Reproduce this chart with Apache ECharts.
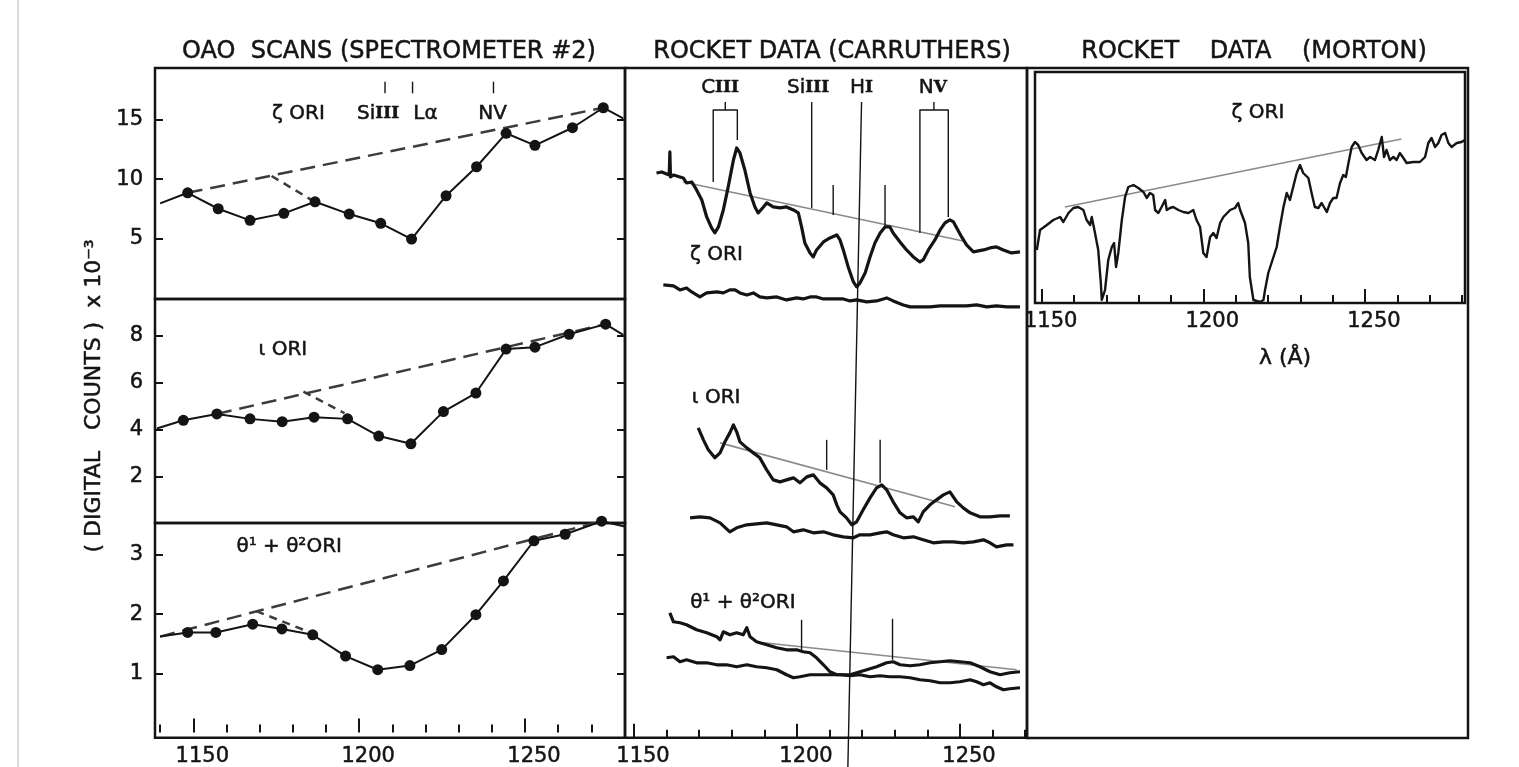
<!DOCTYPE html>
<html>
<head>
<meta charset="utf-8">
<title>OAO scans and rocket data</title>
<script src="https://cdn.jsdelivr.net/npm/echarts@6/dist/echarts.min.js"></script>
<style>
html, body { margin: 0; padding: 0; background: #fff; }
#chart { width: 1519px; height: 767px; }
</style>
</head>
<body>
<div id="chart"></div>
<script>
// wavelength ticks (Angstrom)
var majorTicks = [1150, 1200, 1250];
var minorTicks = [1140, 1160, 1170, 1180, 1190, 1210, 1220, 1230, 1240, 1260, 1270, 1280];
var zetaTicks = [5, 10, 15];
var iotaTicks = [2, 4, 6, 8];
var thetaTicks = [1, 2, 3];

// OAO scans (digital counts x 10^-3)
var zetaOao = [[1148.3, 8.85], [1157.5, 7.5], [1167.1, 6.52], [1177.3, 7.11], [1186.7, 8.09], [1197.0, 7.05], [1206.5, 6.27],
  [1215.8, 4.94], [1226.2, 8.6], [1235.4, 11.05], [1244.3, 13.88], [1253.0, 12.86], [1264.3, 14.35], [1273.6, 16.04]];
var zetaOaoEnds = [[1140, 7.96], [1279.6, 15.14]];
var zetaOaoCont = [[1148.3, 8.85], [1273.6, 16.04]];
var zetaOaoBranch = [[1173.6, 10.27], [1186.5, 8.1]];

var iotaOao = [[1147.0, 4.4], [1157.1, 4.67], [1167.1, 4.46], [1176.8, 4.34], [1186.4, 4.53], [1196.5, 4.46], [1205.9, 3.73],
  [1215.6, 3.4], [1225.4, 4.77], [1235.2, 5.56], [1244.3, 7.43], [1253.0, 7.51], [1263.3, 8.06], [1274.3, 8.49]];
var iotaOaoEnds = [[1139, 4.05], [1279.6, 8.03]];
var iotaOaoCont = [[1157.1, 4.67], [1274.3, 8.49]];
var iotaOaoBranch = [[1183.2, 5.62], [1195.6, 4.7]];

var thetaOao = [[1148.3, 1.69], [1156.8, 1.69], [1167.9, 1.83], [1176.7, 1.75], [1186.0, 1.65], [1195.9, 1.29], [1205.6, 1.06],
  [1215.3, 1.13], [1224.9, 1.40], [1235.2, 1.99], [1243.5, 2.56], [1252.7, 3.24], [1262.1, 3.35], [1273.1, 3.57]];
var thetaOaoEnds = [[1140, 1.62], [1280.1, 3.48]];
var thetaOaoCont = [[1140, 1.62], [1273.1, 3.57]];
var thetaOaoBranch = [[1169, 2.05], [1186.2, 1.67]];

var oaoIdTicks = [
  [[1207.8, 18.24], [1207.8, 17.26]],
  [[1216.1, 18.24], [1216.1, 17.26]],
  [[1240.5, 18.24], [1240.5, 17.26]]
];

// rocket data (Carruthers), relative intensity
var zetaRocket = [[1156.9, 56.5], [1158.5, 56.6], [1160.8, 56.3], [1161.0, 58.6], [1161.2, 56.1], [1162.1, 56.3], [1165.1, 56.0],
  [1166.1, 55.5], [1167.7, 55.6], [1169.2, 54.8], [1170.8, 53.8], [1172.3, 52.1], [1173.8, 51.0], [1174.8, 50.5], [1175.9, 51.1],
  [1177.4, 52.8], [1178.9, 55.1], [1180.5, 57.8], [1181.5, 59.0], [1182.5, 58.5], [1184.0, 56.8], [1185.6, 54.5], [1187.1, 53.1],
  [1188.1, 52.5], [1189.7, 53.1], [1190.7, 53.5], [1192.7, 53.1], [1194.8, 53.0], [1196.8, 53.1], [1198.9, 52.8], [1200.4, 52.5],
  [1201.4, 51.1], [1202.4, 49.5], [1204.0, 48.5], [1205.0, 48.1], [1206.0, 48.8], [1208.1, 49.6], [1210.1, 50.0], [1212.2, 50.3],
  [1213.2, 49.8], [1214.2, 48.8], [1215.7, 47.1], [1217.3, 45.6], [1218.3, 45.1], [1219.3, 45.5], [1220.9, 46.5], [1222.4, 48.1],
  [1223.9, 49.5], [1225.5, 50.5], [1227.0, 51.1], [1228.5, 51.1], [1229.5, 50.5], [1231.6, 49.6], [1233.6, 48.8], [1235.7, 48.1],
  [1237.7, 47.6], [1238.7, 47.8], [1240.3, 48.8], [1242.3, 49.8], [1243.9, 50.8], [1245.4, 51.5], [1246.9, 51.8], [1248.0, 51.6],
  [1249.0, 51.0], [1250.5, 50.1], [1252.0, 49.3], [1254.1, 48.6], [1257.2, 48.8], [1259.2, 49.0], [1261.2, 49.1], [1263.3, 48.8],
  [1265.8, 48.5], [1268.4, 48.6]];
var zetaRocketBase = [[1159.0, 45.3], [1162.1, 45.2], [1164.1, 44.8], [1166.1, 45.0], [1167.7, 44.6], [1170.2, 44.1], [1172.3, 44.5],
  [1175.4, 44.6], [1177.4, 44.5], [1179.4, 44.8], [1181.0, 44.8], [1182.5, 44.5], [1184.6, 44.3], [1186.6, 44.5], [1188.6, 44.1],
  [1190.7, 44.0], [1193.8, 44.1], [1196.8, 43.8], [1199.9, 44.0], [1201.9, 43.9], [1204.0, 44.1], [1206.0, 44.1], [1208.1, 43.9],
  [1211.1, 43.9], [1214.2, 43.9], [1216.3, 43.7], [1218.3, 43.8], [1221.4, 43.6], [1224.4, 43.7], [1227.5, 44.0], [1229.5, 43.7],
  [1232.6, 43.3], [1234.7, 43.1], [1237.7, 43.1], [1240.8, 43.1], [1243.9, 43.2], [1247.9, 43.2], [1252.0, 43.2], [1255.1, 43.3],
  [1258.2, 43.1], [1261.2, 43.2], [1264.3, 43.1], [1268.4, 43.1]];
var zetaRocketCont = [[1165.1, 55.6], [1251.0, 49.7]];

var iotaRocket = [[1169.7, 31.0], [1171.3, 29.8], [1172.8, 28.8], [1174.8, 28.0], [1176.4, 28.5], [1177.9, 29.6], [1179.4, 30.5],
  [1180.5, 31.3], [1181.5, 30.6], [1182.5, 29.6], [1184.6, 29.0], [1186.6, 28.5], [1188.6, 28.0], [1190.7, 26.8], [1192.7, 25.8],
  [1194.8, 25.6], [1196.8, 25.8], [1198.9, 26.0], [1200.9, 25.5], [1203.0, 26.1], [1205.0, 26.3], [1207.0, 25.5], [1209.1, 25.0],
  [1211.1, 24.3], [1212.2, 23.3], [1213.2, 22.6], [1215.2, 22.0], [1216.8, 21.3], [1218.3, 21.6], [1220.3, 22.8], [1222.4, 24.0],
  [1224.4, 25.0], [1226.0, 25.3], [1227.5, 24.8], [1229.5, 23.6], [1231.6, 22.5], [1233.6, 22.0], [1235.7, 22.1], [1237.2, 21.6],
  [1238.7, 22.6], [1240.8, 23.3], [1242.8, 23.8], [1244.9, 24.3], [1246.9, 24.6], [1249.0, 23.6], [1251.0, 23.0], [1253.1, 22.5],
  [1256.1, 22.1], [1259.2, 22.1], [1262.3, 22.2], [1265.3, 22.2]];
var iotaRocketBase = [[1167.2, 22.0], [1170.2, 22.1], [1173.3, 22.0], [1176.4, 21.5], [1179.4, 20.6], [1181.5, 21.0], [1184.6, 21.3],
  [1187.6, 21.4], [1190.7, 21.5], [1193.8, 21.3], [1196.8, 21.1], [1198.9, 20.6], [1201.9, 20.8], [1205.0, 20.5], [1208.1, 20.6],
  [1211.1, 20.3], [1214.2, 20.1], [1217.3, 20.0], [1219.3, 20.3], [1222.4, 20.3], [1225.5, 20.5], [1227.5, 20.6], [1229.5, 20.3],
  [1232.6, 20.0], [1235.7, 20.1], [1238.7, 19.8], [1241.8, 19.5], [1244.9, 19.6], [1247.9, 19.6], [1251.0, 19.5], [1254.1, 19.6],
  [1257.2, 19.8], [1259.2, 19.5], [1261.2, 19.1], [1264.3, 19.3], [1266.4, 19.3]];
var iotaRocketCont = [[1176.4, 29.5], [1248.5, 23.1]];

var thetaRocket = [[1161.0, 12.5], [1162.1, 11.6], [1164.1, 11.5], [1166.1, 11.3], [1169.2, 10.8], [1172.3, 10.5], [1175.4, 10.1],
  [1176.4, 9.8], [1177.4, 10.6], [1179.4, 10.3], [1181.5, 10.5], [1183.5, 10.3], [1184.6, 11.0], [1185.6, 10.1], [1187.6, 9.6],
  [1190.7, 9.3], [1193.8, 9.0], [1196.8, 8.8], [1199.9, 8.8], [1201.9, 8.6], [1204.0, 8.5], [1206.0, 8.0], [1208.1, 7.3],
  [1210.1, 6.6], [1212.2, 6.3], [1214.2, 6.3], [1216.3, 6.3], [1218.3, 6.5], [1221.4, 6.8], [1224.4, 7.1], [1227.5, 7.5],
  [1229.5, 7.6], [1231.6, 7.3], [1234.7, 7.2], [1237.7, 7.3], [1240.8, 7.5], [1243.9, 7.6], [1246.9, 7.7], [1250.0, 7.6],
  [1253.1, 7.5], [1256.1, 7.1], [1259.2, 6.6], [1262.3, 6.3], [1265.3, 6.5], [1268.4, 6.6]];
var thetaRocketBase = [[1160.0, 8.0], [1162.1, 8.1], [1164.1, 7.6], [1166.1, 7.8], [1169.2, 7.5], [1172.3, 7.5], [1175.4, 7.3],
  [1178.4, 7.3], [1181.5, 7.1], [1184.6, 7.3], [1187.6, 7.1], [1190.7, 7.0], [1193.8, 6.8], [1196.8, 6.3], [1198.9, 6.0],
  [1200.9, 6.1], [1204.0, 6.3], [1207.0, 6.3], [1210.1, 6.3], [1213.2, 6.3], [1216.3, 6.2], [1219.3, 6.3], [1222.4, 6.1],
  [1225.5, 6.2], [1228.5, 6.1], [1231.6, 6.1], [1234.7, 6.0], [1237.7, 5.8], [1240.8, 5.7], [1243.9, 5.5], [1246.9, 5.5],
  [1250.0, 5.6], [1253.1, 5.8], [1255.1, 5.6], [1257.2, 5.3], [1259.2, 5.5], [1261.2, 5.1], [1263.3, 4.8], [1265.3, 4.9],
  [1268.4, 5.0]];
var thetaRocketCont = [[1189.7, 9.5], [1267.4, 6.8]];

var rocketIdLines = [
  [[1174.3, 55.6], [1174.3, 62.8], [1181.7, 62.8], [1181.7, 59.8]],
  [[1178.0, 62.8], [1178.0, 63.6]],
  [[1204.5, 63.6], [1204.5, 53.0]],
  [[1211.1, 55.3], [1211.1, 52.3]],
  [[1219.8, 63.6], [1215.6, -3]],
  [[1227.0, 55.3], [1227.0, 51.1]],
  [[1237.7, 50.5], [1237.7, 62.8], [1246.4, 62.8], [1246.4, 52.1]],
  [[1242.0, 62.8], [1242.0, 63.6]],
  [[1209.1, 29.8], [1209.1, 26.8]],
  [[1225.5, 29.8], [1225.5, 25.5]],
  [[1201.4, 11.8], [1201.4, 8.8]],
  [[1229.3, 11.9], [1229.3, 7.8]]
];

// rocket data (Morton), zeta Ori
var morton = [[1148.5, 5.3], [1149.5, 7.3], [1151.6, 7.8], [1153.6, 8.3], [1155.7, 8.6], [1156.7, 8.1], [1158.3, 9.0], [1159.8, 9.5],
  [1161.3, 9.6], [1162.9, 9.3], [1163.9, 8.3], [1165.0, 7.8], [1165.5, 8.6], [1166.5, 7.0], [1167.5, 5.3], [1168.3, 2.0],
  [1168.6, 0.3], [1169.6, 1.3], [1170.6, 4.3], [1171.7, 5.6], [1172.4, 6.0], [1173.0, 3.6], [1173.7, 5.0], [1174.8, 8.3],
  [1175.8, 10.6], [1176.8, 11.6], [1178.4, 11.8], [1179.9, 11.5], [1181.5, 11.1], [1182.5, 10.5], [1183.5, 11.0], [1184.5, 10.8],
  [1185.1, 9.3], [1186.1, 9.0], [1187.1, 9.6], [1188.2, 10.3], [1188.7, 9.3], [1189.7, 9.5], [1190.7, 9.6], [1192.3, 9.3],
  [1193.8, 9.1], [1195.4, 9.0], [1196.9, 9.3], [1197.9, 8.3], [1199.0, 7.6], [1200.0, 5.0], [1201.0, 4.6], [1202.1, 6.6],
  [1203.1, 7.0], [1204.1, 6.5], [1205.2, 8.0], [1206.2, 8.6], [1208.3, 9.3], [1209.8, 9.5], [1210.8, 10.0], [1211.4, 9.3],
  [1212.9, 8.0], [1213.9, 6.0], [1214.4, 2.6], [1215.5, 0.3], [1217.5, 0.1], [1218.6, 0.3], [1219.1, 1.3], [1220.1, 3.0],
  [1221.7, 4.6], [1222.7, 5.6], [1223.7, 7.6], [1224.8, 9.6], [1225.8, 11.0], [1226.8, 10.3], [1227.8, 11.6], [1228.9, 13.0],
  [1229.9, 13.8], [1230.9, 13.0], [1232.5, 12.5], [1233.5, 11.0], [1234.5, 9.6], [1235.6, 9.5], [1236.6, 10.0], [1238.2, 9.1],
  [1239.2, 10.0], [1240.2, 10.5], [1241.2, 10.5], [1242.3, 12.0], [1243.3, 12.8], [1244.1, 12.6], [1244.9, 14.0], [1245.9, 15.6],
  [1246.9, 16.1], [1247.9, 15.8], [1249.0, 15.0], [1250.5, 14.3], [1251.6, 14.6], [1253.1, 14.3], [1254.1, 15.3], [1255.2, 16.6],
  [1255.9, 14.6], [1256.7, 15.3], [1257.7, 14.3], [1258.8, 14.6], [1259.8, 14.3], [1260.8, 15.0], [1261.9, 14.5], [1262.9, 14.0],
  [1264.9, 14.1], [1267.0, 14.1], [1268.6, 14.6], [1269.6, 16.0], [1270.6, 16.5], [1271.7, 15.6], [1272.7, 16.0], [1273.7, 16.8],
  [1274.8, 17.0], [1275.8, 16.0], [1276.8, 15.6], [1278.4, 16.0], [1279.9, 16.1], [1280.9, 16.3]];
var mortonCont = [[1157.2, 9.6], [1261.3, 16.4]];

// panel labels: [lambda, value, text]
var oaoTopLabels = [[1181.7, 15.57, 'ζ ORI'], [1205.7, 15.57, 'Si{r|III}'], [1220.0, 15.57, 'Lα'], [1240.2, 15.57, 'NV']];
var oaoMidLabels = [[1177.0, 7.39, 'ι ORI']];
var oaoLowLabels = [[1178.9, 3.14, 'θ¹ + θ²ORI']];
var rocketLabels = [[1176.4, 65.0, 'C{r|III}'], [1203.4, 65.0, 'Si{r|III}'], [1219.8, 65.0, 'H{r|I}'], [1241.7, 65.0, 'N{r|V}'],
  [1175.3, 48.3, 'ζ ORI'], [1175.2, 34.0, 'ι ORI'], [1183.4, 13.5, 'θ¹ + θ²ORI']];
var mortonLabels = [[1216.9, 19.0, 'ζ ORI']];

var ink = '#141414';
var font = 'DejaVu Sans';
var chart = echarts.init(document.getElementById('chart'), null, { renderer: 'canvas' });

var grids = [
  { left: 155, top: 68, width: 470, height: 231 },
  { left: 155, top: 299, width: 470, height: 224 },
  { left: 155, top: 523, width: 470, height: 215 },
  { left: 625, top: 68, width: 402, height: 670 },
  { left: 1035, top: 72, width: 430, height: 231 },
  { left: 1027, top: 68, width: 441, height: 670 }
].map(function (g) {
  return Object.assign({ show: true, borderColor: ink, borderWidth: 2.5, backgroundColor: 'transparent' }, g);
});

var textInk = { color: ink, fontFamily: font, textBorderColor: ink, textBorderWidth: 0.5, opacity: 1 };
function plain(v) { return String(v); }

function hiddenAxis(grid, min, max, extra) {
  return Object.assign({
    type: 'value', gridIndex: grid, min: min, max: max,
    axisLine: { show: false }, splitLine: { show: false },
    axisTick: { show: false }, axisLabel: { show: false }
  }, extra || {});
}
function majorX(grid, min, max, extra) {
  return hiddenAxis(grid, min, max, Object.assign({
    position: 'bottom',
    axisTick: { show: true, inside: true, length: 14, customValues: majorTicks, lineStyle: { color: ink, width: 2 } },
    axisLabel: Object.assign({ show: true, customValues: majorTicks, formatter: plain, fontSize: 21, margin: 8, padding: [0, 0, 0, 18] }, textInk)
  }, extra || {}));
}
function minorX(grid, min, max) {
  return hiddenAxis(grid, min, max, {
    position: 'bottom',
    axisTick: { show: true, inside: true, length: 8, customValues: minorTicks, lineStyle: { color: ink, width: 2 } }
  });
}
function leftY(grid, min, max, ticks, extra) {
  return hiddenAxis(grid, min, max, Object.assign({
    position: 'left',
    axisTick: { show: true, inside: true, length: 8, customValues: ticks, lineStyle: { color: ink, width: 2 } },
    axisLabel: Object.assign({ show: true, customValues: ticks, formatter: plain, fontSize: 21, margin: 12 }, textInk)
  }, extra || {}));
}
function rightY(grid, min, max, ticks) {
  return hiddenAxis(grid, min, max, {
    position: 'right',
    axisTick: { show: true, inside: true, length: 8, customValues: ticks, lineStyle: { color: ink, width: 2 } }
  });
}

var xAxes = [
  hiddenAxis(0, 1138.45, 1280.15),
  hiddenAxis(1, 1138.45, 1280.15),
  majorX(2, 1138.45, 1280.15),
  minorX(2, 1138.45, 1280.15),
  majorX(3, 1147.24, 1270.55),
  minorX(3, 1147.24, 1270.55),
  majorX(4, 1147.94, 1280.95, {
    name: 'λ (Å)', nameLocation: 'middle', nameGap: 44,
    nameTextStyle: Object.assign({ fontSize: 22, padding: [0, 0, 0, 70] }, textInk)
  }),
  minorX(4, 1147.94, 1280.95),
  hiddenAxis(5, 0, 1)
];
var yAxes = [
  leftY(0, -0.13, 19.4, zetaTicks),
  rightY(0, -0.13, 19.4, zetaTicks),
  leftY(1, 0.03, 9.56, iotaTicks, {
    name: '( DIGITAL   COUNTS )  x 10⁻³', nameLocation: 'middle', nameRotate: 90, nameGap: 50,
    nameTextStyle: Object.assign({ fontSize: 22, padding: [0, 0, 0, 30] }, textInk)
  }),
  rightY(1, 0.03, 9.56, iotaTicks),
  leftY(2, -0.09, 3.54, thetaTicks),
  rightY(2, -0.09, 3.54, thetaTicks),
  hiddenAxis(3, 0, 67),
  hiddenAxis(4, 0, 23.1),
  hiddenAxis(5, 0, 1)
];

function base(xi, yi) {
  return { xAxisIndex: xi, yAxisIndex: yi, silent: true, clip: false, animation: false };
}
function trace(data, xi, yi, width, color, z) {
  return Object.assign(base(xi, yi), {
    type: 'line', data: data, symbol: 'none', z: z || 3,
    lineStyle: { color: color || ink, width: width || 3.2, join: 'round' }
  });
}
function dashed(data, xi, yi, dash) {
  return Object.assign(base(xi, yi), {
    type: 'line', data: data, symbol: 'none', z: 2,
    lineStyle: { color: '#3c3c3c', width: 2.5, type: dash }
  });
}
function oao(points, ends, xi, yi) {
  var data = [{ value: ends[0], symbol: 'none' }]
    .concat(points.map(function (p) { return { value: p }; }))
    .concat([{ value: ends[1], symbol: 'none' }]);
  return Object.assign(base(xi, yi), {
    type: 'line', data: data, symbol: 'circle', symbolSize: 11, showAllSymbol: true, z: 4,
    itemStyle: { color: ink }, lineStyle: { color: ink, width: 2 }
  });
}
function labels(items, xi, yi, size) {
  var s = size || 20;
  return Object.assign(base(xi, yi), {
    type: 'scatter', symbolSize: 0, z: 5,
    itemStyle: { opacity: 1, color: ink },
    data: items.map(function (d) { return { value: [d[0], d[1]], name: d[2] }; }),
    label: Object.assign({
      show: true, position: 'inside', formatter: '{b}', fontSize: s,
      rich: { r: { fontFamily: 'DejaVu Serif', fontWeight: 'bold', fontSize: s - 3, color: ink } }
    }, textInk)
  });
}

var series = [
  // OAO scans
  oao(zetaOao, zetaOaoEnds, 0, 0),
  dashed(zetaOaoCont, 0, 0, [15, 8]),
  dashed(zetaOaoBranch, 0, 0, [8, 6]),
  oao(iotaOao, iotaOaoEnds, 1, 2),
  dashed(iotaOaoCont, 1, 2, [15, 8]),
  dashed(iotaOaoBranch, 1, 2, [8, 6]),
  oao(thetaOao, thetaOaoEnds, 2, 4),
  dashed(thetaOaoCont, 2, 4, [15, 8]),
  dashed(thetaOaoBranch, 2, 4, [8, 6]),
  labels(oaoTopLabels, 0, 0),
  labels(oaoMidLabels, 1, 2),
  labels(oaoLowLabels, 2, 4),
  // rocket data (Carruthers)
  trace(zetaRocket, 4, 6),
  trace(zetaRocketBase, 4, 6),
  trace(zetaRocketCont, 4, 6, 1.6, '#8a8a8a', 2),
  trace(iotaRocket, 4, 6),
  trace(iotaRocketBase, 4, 6),
  trace(iotaRocketCont, 4, 6, 1.6, '#8a8a8a', 2),
  trace(thetaRocket, 4, 6),
  trace(thetaRocketBase, 4, 6),
  trace(thetaRocketCont, 4, 6, 1.6, '#8a8a8a', 2),
  labels(rocketLabels, 4, 6),
  // rocket data (Morton)
  trace(morton, 6, 7, 2.4),
  trace(mortonCont, 6, 7, 1.6, '#8a8a8a', 2),
  labels(mortonLabels, 6, 7)
];
oaoIdTicks.forEach(function (l) { series.push(trace(l, 0, 0, 1.4)); });
rocketIdLines.forEach(function (l) { series.push(trace(l, 4, 6, 1.4)); });

var titleStyle = Object.assign({ fontSize: 24, fontWeight: 'normal' }, textInk);
chart.setOption({
  backgroundColor: '#fff',
  animation: false,
  title: [
    { text: 'OAO  SCANS (SPECTROMETER #2)', left: 384, top: 35, textAlign: 'center', textStyle: titleStyle },
    { text: 'ROCKET DATA (CARRUTHERS)', left: 827, top: 35, textAlign: 'center', textStyle: titleStyle },
    { text: 'ROCKET    DATA    (MORTON)', left: 1249, top: 35, textAlign: 'center', textStyle: titleStyle }
  ],
  graphic: [
    { type: 'line', shape: { x1: 18, y1: 0, x2: 18, y2: 767 }, style: { stroke: '#cfcfcf', lineWidth: 1.5 }, silent: true }
  ],
  grid: grids,
  xAxis: xAxes,
  yAxis: yAxes,
  series: series
});
</script>
</body>
</html>
